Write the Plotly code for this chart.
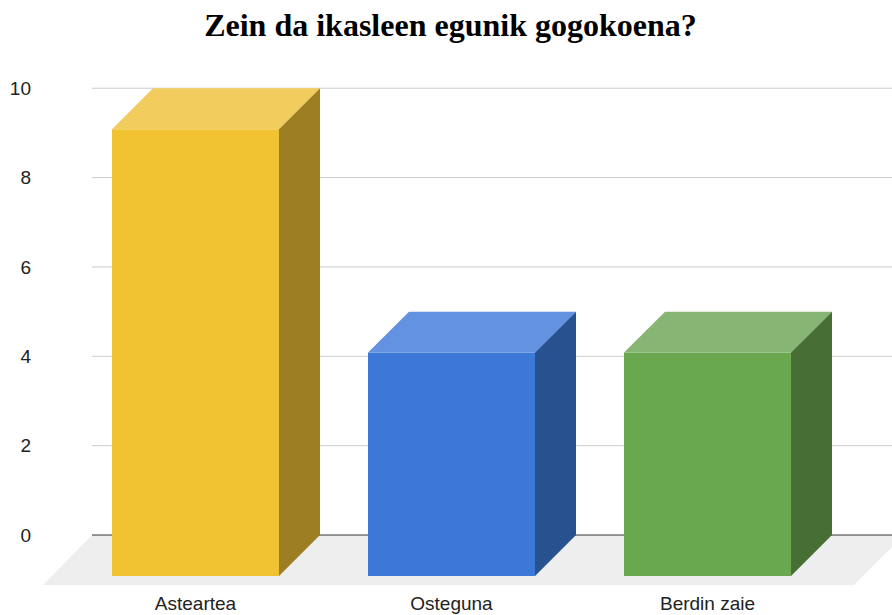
import plotly.graph_objects as go

# data
categories = ["Asteartea", "Osteguna", "Berdin zaie"]
values = [10, 5, 5]
y_ticks = [0, 2, 4, 6, 8, 10]

front_colors = ["#F1C232", "#3C78D8", "#6AA84F"]
top_colors = ["#F2CD5E", "#6392E0", "#87B574"]
side_colors = ["#9E7E22", "#27518F", "#476E35"]

# geometry (axis units)
px_x = 256.0   # pixels per category step
px_y = 44.7    # pixels per value unit
bar_w = 167 / px_x
dx = 41 / px_x
dy = 41 / px_y
floor_dx = 50 / px_x
floor_dy = 50 / px_y
x_min = -152.5 / px_x
x_max = 696.5 / px_x
wall_left = -103.5 / px_x

fig = go.Figure()


def face(xs, ys, color):
    fig.add_trace(go.Scatter(
        x=xs, y=ys, fill="toself", fillcolor=color, mode="lines",
        line=dict(width=0), hoverinfo="skip", showlegend=False,
    ))


# floor
fl_right = x_max - 38 / px_x
face([wall_left, x_max + 1, fl_right + floor_dx, fl_right, x_min, wall_left],
     [0, 0, 0, -floor_dy, -floor_dy, 0], "#EEEEEE")

# gridlines on the back wall
for t in y_ticks:
    fig.add_trace(go.Scatter(
        x=[wall_left, x_max + 1], y=[t, t], mode="lines",
        line=dict(color="#333333" if t == 0 else "#CCCCCC", width=1),
        hoverinfo="skip", showlegend=False,
    ))

xs = list(range(len(categories)))

# bars: front, top and side faces
for i, v in enumerate(values):
    l, r = i - bar_w / 2, i + bar_w / 2
    face([l, r, r, l, l], [-dy, -dy, v - dy, v - dy, -dy], front_colors[i])
    face([l, r, r + dx, l + dx, l], [v - dy, v - dy, v, v, v - dy], top_colors[i])
    face([r, r + dx, r + dx, r, r], [-dy, 0, v, v - dy, -dy], side_colors[i])

fig.update_layout(
    width=892, height=615,
    margin=dict(l=43, r=0, t=86, b=30),
    plot_bgcolor="white", paper_bgcolor="white",
    title=dict(
        text="<b>Zein da ikasleen egunik gogokoena?</b>",
        x=0.505, xanchor="center", y=0.96, yanchor="middle",
        font=dict(family="Liberation Serif", size=32, color="#000000"),
    ),
    font=dict(family="Liberation Sans", size=19, color="#222222"),
)
fig.update_xaxes(
    range=[x_min, x_max], tickvals=xs, ticktext=categories,
    showgrid=False, zeroline=False, showline=False, ticks="", ticklabelstandoff=5,
)
fig.update_yaxes(
    range=[-floor_dy, 10.05], tickvals=y_ticks,
    showgrid=False, zeroline=False, showline=False, ticks="", ticklabelstandoff=11,
)

fig.write_html(
    "out.html",
    config={"displayModeBar": False},
    post_script="document.body.style.margin='0';document.body.style.overflow='hidden';",
)
